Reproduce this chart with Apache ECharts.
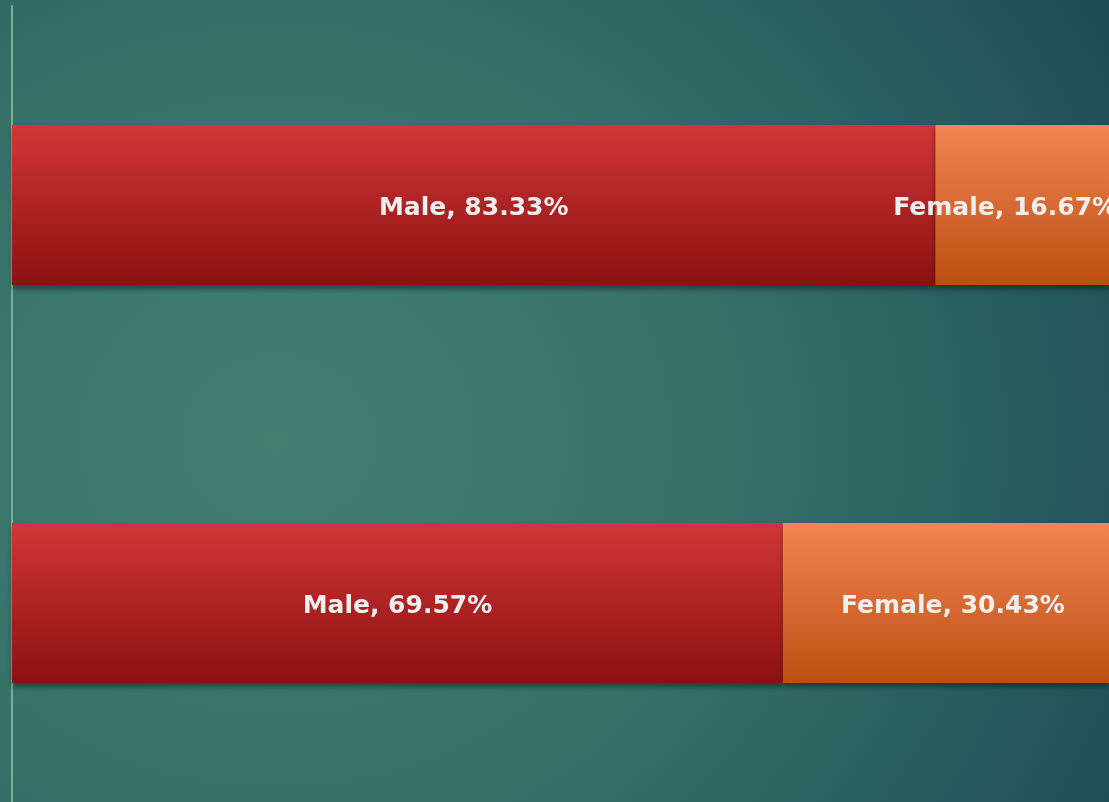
<!DOCTYPE html>
<html>
<head>
<meta charset="utf-8">
<script src="https://cdn.jsdelivr.net/npm/echarts@6/dist/echarts.min.js"></script>
<style>
  html,body{margin:0;padding:0;width:1109px;height:802px;overflow:hidden;}
  body{background:radial-gradient(ellipse 90% 110% at 25% 55%, #417f73 0%, #367067 45%, #25585c 80%, #1c4a53 100%);}
  #chart{width:1109px;height:802px;}
</style>
</head>
<body>
<div id="chart"></div>
<script>
// groups, top to bottom
var categories = ['Group 1', 'Group 2'];
var maleShare = [83.33, 69.57];
var femaleShare = [16.67, 30.43];

function vgrad(top, bottom){
  return new echarts.graphic.LinearGradient(0, 0, 0, 1, [
    {offset: 0, color: top}, {offset: 1, color: bottom}
  ]);
}

var labelStyle = {
  show: true,
  position: 'inside',
  offset: [0, 3],
  formatter: function(p){ return p.seriesName + ', ' + p.value.toFixed(2) + '%'; },
  color: '#efefef',
  fontFamily: 'DejaVu Sans',
  fontWeight: 'bold',
  fontSize: 25
};

// female labels: the bar is cut off at the right edge, nudge them back to where the slide has them
var femaleOffsets = [[-17, 3], [7, 3]];
var femaleData = femaleShare.map(function(v, i){
  return {value: v, label: {offset: femaleOffsets[i]}};
});

var chart = echarts.init(document.getElementById('chart'));
chart.setOption({
  backgroundColor: 'transparent',
  animation: false,
  grid: {left: 12, top: 6, right: 0, bottom: 0},
  // the plot runs a little past the right edge of the slide
  xAxis: {type: 'value', min: 0, max: 99, show: false},
  yAxis: {
    type: 'category',
    data: categories,
    inverse: true,
    axisLine: {show: true, lineStyle: {color: '#72b394', width: 2}},
    axisTick: {show: false},
    axisLabel: {show: false}
  },
  series: [
    {
      name: 'Male', type: 'bar', stack: 'total', barWidth: 160,
      data: maleShare,
      itemStyle: {color: vgrad('#d03636', '#8c1011'), shadowColor: 'rgba(0,0,0,0.4)', shadowBlur: 5, shadowOffsetY: 4},
      label: labelStyle
    },
    {
      name: 'Female', type: 'bar', stack: 'total', barWidth: 160,
      data: femaleData,
      itemStyle: {color: vgrad('#f18653', '#bd4e12'), shadowColor: 'rgba(0,0,0,0.4)', shadowBlur: 5, shadowOffsetY: 4},
      label: labelStyle
    }
  ]
});
</script>
</body>
</html>
